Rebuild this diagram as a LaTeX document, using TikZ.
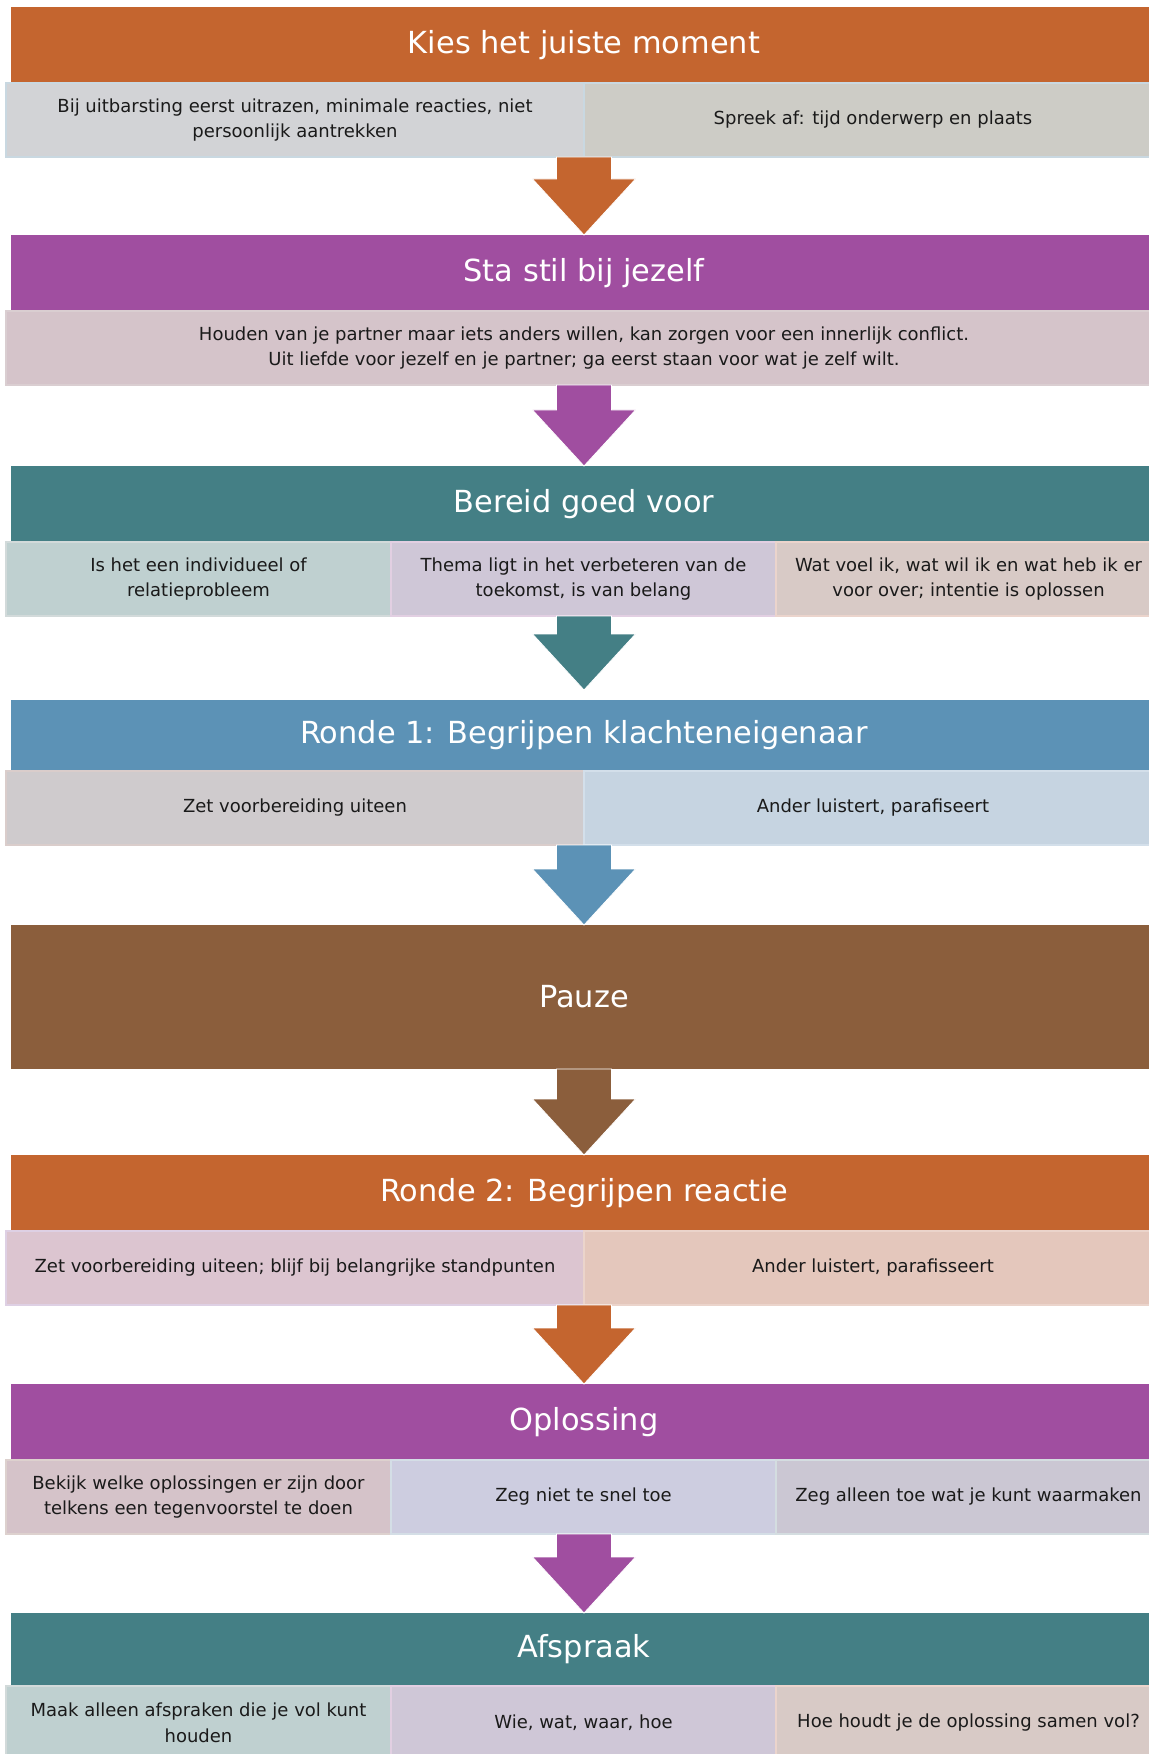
\documentclass[tikz,border=0pt]{standalone}
\usepackage{fontspec}
\setmainfont{DejaVu Sans}
\usepackage{tikz}
\usetikzlibrary{calc}
\definecolor{oranje}{HTML}{C4652F}
\definecolor{paars}{HTML}{A04EA0}
\definecolor{petrol}{HTML}{447F85}
\definecolor{blauw}{HTML}{5C92B6}
\definecolor{bruin}{HTML}{8B5E3C}
\definecolor{tekst}{HTML}{1A1A1A}
% vakjes: vulling en rand
\definecolor{v1a}{HTML}{D2D3D6}\definecolor{r1a}{HTML}{C9D8E1}
\definecolor{v1b}{HTML}{CDCCC6}\definecolor{r1b}{HTML}{C9D8E1}
\definecolor{v2a}{HTML}{D5C4CA}\definecolor{r2a}{HTML}{DACED1}
\definecolor{v3a}{HTML}{BFD0D0}\definecolor{r3a}{HTML}{D2DADA}
\definecolor{v3b}{HTML}{CFC7D7}\definecolor{r3b}{HTML}{E2CFE2}
\definecolor{v3c}{HTML}{D8CAC6}\definecolor{r3c}{HTML}{EBD4CC}
\definecolor{v4a}{HTML}{CFCBCD}\definecolor{r4a}{HTML}{DACDCB}
\definecolor{v4b}{HTML}{C6D4E1}\definecolor{r4b}{HTML}{D3DFEA}
\definecolor{v6a}{HTML}{DCC5D0}\definecolor{r6a}{HTML}{DED0E4}
\definecolor{v6b}{HTML}{E4C7BC}\definecolor{r6b}{HTML}{EBD4CB}
\definecolor{v7a}{HTML}{D5C3C9}\definecolor{r7a}{HTML}{DDD1CE}
\definecolor{v7b}{HTML}{CDCDE0}\definecolor{r7b}{HTML}{D4DEE6}
\definecolor{v7c}{HTML}{CBC7D3}\definecolor{r7c}{HTML}{D4DDE0}
\tikzstyle{kop}=[rectangle,anchor=north,inner sep=0,outer sep=0,minimum width=573pt,minimum height=38pt,text=white,font=\fontsize{15.2}{18}\selectfont]
\tikzstyle{vak}=[rectangle,anchor=north west,inner sep=0,outer sep=0,minimum height=37pt,align=center,text=tekst,line width=1pt,font=\fontsize{9}{12.85}\selectfont]
\tikzstyle{vak1}=[vak,minimum width=578pt]
\tikzstyle{vak2}=[vak,minimum width=289pt]
\tikzstyle{vak3}=[vak,minimum width=192.5pt]
\newcommand{\stap}[5][]{\node[kop,fill=#4,#1] (#2) at (584,#3) {#5};}
\newcommand{\pijl}[4][0]{\fill[#4,draw=white,line width=0.4pt] ($(#3.north |- #2.south)+(-27.5,0)$) -- ($(#3.north |- #2.south)+(27.5,0)$) -- ($(#3.north)+(27.5,-56-#1)$) -- ($(#3.north)+(51.5,-56-#1)$) -- ($(#3.north)+(0,-#1)$) -- ($(#3.north)+(-51.5,-56-#1)$) -- ($(#3.north)+(-27.5,-56-#1)$) -- cycle;}

\begin{document}
\begin{tikzpicture}[x=0.5pt,y=-0.5pt]
\useasboundingbox (0,0) rectangle (1149,1754);

\stap{k1}{7}{oranje}{Kies het juiste moment}
\node[vak2,fill=v1a,draw=r1a] (k1a) at ($(k1.south west)+(-5,0)$) {Bij uitbarsting eerst uitrazen, minimale reacties, niet\\persoonlijk aantrekken};
\node[vak2,fill=v1b,draw=r1b] (k1b) at (k1a.north east) {Spreek af: tijd onderwerp en plaats};

\stap{k2}{235}{paars}{Sta stil bij jezelf}
\node[vak1,fill=v2a,draw=r2a] (k2a) at ($(k2.south west)+(-5,0)$) {Houden van je partner maar iets anders willen, kan zorgen voor een innerlijk conflict.\\Uit liefde voor jezelf en je partner; ga eerst staan voor wat je zelf wilt.};

\stap{k3}{466}{petrol}{Bereid goed voor}
\node[vak3,fill=v3a,draw=r3a] (k3a) at ($(k3.south west)+(-5,0)$) {Is het een individueel of\\relatieprobleem};
\node[vak3,fill=v3b,draw=r3b] (k3b) at (k3a.north east) {Thema ligt in het verbeteren van de\\toekomst, is van belang};
\node[vak3,fill=v3c,draw=r3c] (k3c) at (k3b.north east) {Wat voel ik, wat wil ik en wat heb ik er\\voor over; intentie is oplossen};

\stap[minimum height=35.5pt]{k4}{700}{blauw}{Ronde 1: Begrijpen klachteneigenaar}
\node[vak2,fill=v4a,draw=r4a] (k4a) at ($(k4.south west)+(-5,0)$) {Zet voorbereiding uiteen};
\node[vak2,fill=v4b,draw=r4b] (k4b) at (k4a.north east) {Ander luistert, parafiseert};

\stap[minimum height=72pt]{k5}{925}{bruin}{Pauze}

\stap{k6}{1155}{oranje}{Ronde 2: Begrijpen reactie}
\node[vak2,fill=v6a,draw=r6a] (k6a) at ($(k6.south west)+(-5,0)$) {Zet voorbereiding uiteen; blijf bij belangrijke standpunten};
\node[vak2,fill=v6b,draw=r6b] (k6b) at (k6a.north east) {Ander luistert, parafisseert};

\stap{k7}{1384}{paars}{Oplossing}
\node[vak3,fill=v7a,draw=r7a] (k7a) at ($(k7.south west)+(-5,0)$) {Bekijk welke oplossingen er zijn door\\telkens een tegenvoorstel te doen};
\node[vak3,fill=v7b,draw=r7b] (k7b) at (k7a.north east) {Zeg niet te snel toe};
\node[vak3,fill=v7c,draw=r7c] (k7c) at (k7b.north east) {Zeg alleen toe wat je kunt waarmaken};

\stap[minimum height=36.5pt]{k8}{1613}{petrol}{Afspraak}
\node[vak3,fill=v3a,draw=r3a] (k8a) at ($(k8.south west)+(-5,0)$) {Maak alleen afspraken die je vol kunt\\houden};
\node[vak3,fill=v3b,draw=r3b] (k8b) at (k8a.north east) {Wie, wat, waar, hoe};
\node[vak3,fill=v3c,draw=r3c] (k8c) at (k8b.north east) {Hoe houdt je de oplossing samen vol?};

% pijlen
\pijl{k1a}{k2}{oranje}
\pijl{k2a}{k3}{paars}
\pijl[10]{k3a}{k4}{petrol}
\pijl{k4a}{k5}{blauw}
\pijl{k5}{k6}{bruin}
\pijl{k6a}{k7}{oranje}
\pijl{k7a}{k8}{paars}
\end{tikzpicture}
\end{document}
